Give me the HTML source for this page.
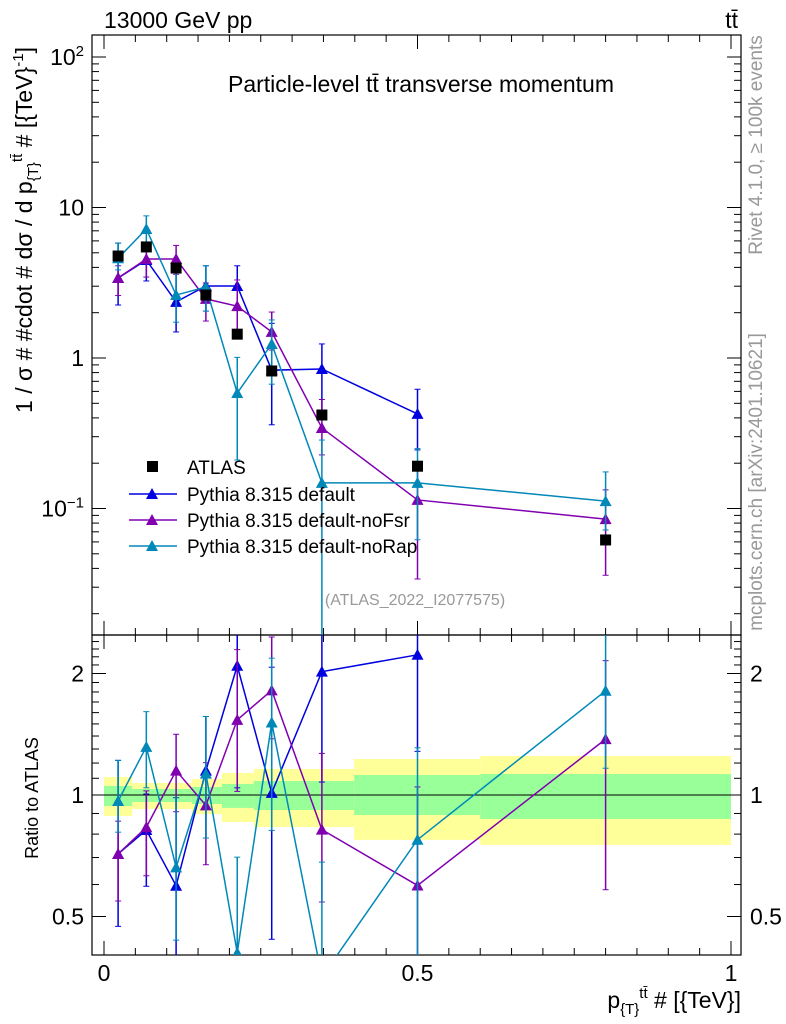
<!DOCTYPE html>
<html><head><meta charset="utf-8"><style>
html,body{margin:0;padding:0;background:#fff;overflow:hidden;width:786px;height:1024px;}
svg{display:block;font-family:"Liberation Sans",sans-serif;}
</style></head><body>
<svg id="chart" width="786" height="1024" viewBox="0 0 786 1024" xmlns="http://www.w3.org/2000/svg">
<g id="bands"></g>
<g id="axes"></g>
<g id="series"></g>
<text x="104" y="28" font-size="23">13000 GeV pp</text>
<text x="738" y="28" font-size="23" text-anchor="end">tt̄</text>
<text x="421" y="92" font-size="23" text-anchor="middle">Particle-level tt̄ transverse momentum</text>
<text x="415" y="605" font-size="16" fill="#999" text-anchor="middle">(ATLAS_2022_I2077575)</text>
<text transform="translate(762,145) rotate(-90)" font-size="19" fill="#999" text-anchor="middle">Rivet 4.1.0, ≥ 100k events</text>
<text transform="translate(762,482) rotate(-90)" font-size="19" fill="#999" text-anchor="middle">mcplots.cern.ch [arXiv:2401.10621]</text>
<text transform="translate(32,230) rotate(-90)" font-size="23" text-anchor="middle">1 / σ # #cdot # dσ / d p<tspan font-size="15" dy="6">{T}</tspan><tspan font-size="15" dy="-16">tt̄</tspan><tspan dy="10"> # [{TeV}</tspan><tspan font-size="15" dy="-9">-1</tspan><tspan dy="9">]</tspan></text>
<text transform="translate(38,798) rotate(-90)" font-size="18" text-anchor="middle">Ratio to ATLAS</text>
<text x="741" y="1008" font-size="23" text-anchor="end">p<tspan font-size="15" dy="6">{T}</tspan><tspan font-size="15" dy="-16">tt̄</tspan><tspan dy="10"> # [{TeV}]</tspan></text>
<g>
<rect x="147" y="461" width="11" height="11" fill="#000"/>
<text x="187" y="474" font-size="19">ATLAS</text>
<line x1="129" x2="177" y1="494" y2="494" stroke="#0000e0" stroke-width="1.5"/>
<path d="M146,499 L158,499 L152,488Z" fill="#0000e0"/>
<text x="187" y="501" font-size="19">Pythia 8.315 default</text>
<line x1="129" x2="177" y1="520" y2="520" stroke="#8000b0" stroke-width="1.5"/>
<path d="M146,525 L158,525 L152,514Z" fill="#8000b0"/>
<text x="187" y="527" font-size="19">Pythia 8.315 default-noFsr</text>
<line x1="129" x2="177" y1="546" y2="546" stroke="#0088b8" stroke-width="1.5"/>
<path d="M146,551 L158,551 L152,540Z" fill="#0088b8"/>
<text x="187" y="553" font-size="19">Pythia 8.315 default-noRap</text>
</g>
</svg>
<script>
const xCenters=[0.0225,0.0675,0.115,0.1625,0.2125,0.2675,0.3475,0.5,0.8];
const atlasVals=[4.76,5.47,3.96,2.62,1.44,0.82,0.418,0.191,0.0618];
const bandEdges=[0,0.045,0.14,0.188,0.239,0.399,0.6,1.0];
const yellowHi=[1.108,1.071,1.095,1.134,1.160,1.228,1.249];
const yellowLo=[0.887,0.923,0.897,0.857,0.833,0.774,0.752];
const greenHi=[1.053,1.035,1.047,1.065,1.083,1.121,1.127];
const greenLo=[0.939,0.961,0.950,0.929,0.918,0.892,0.872];
const defVals=[3.40,4.48,2.36,3.01,3.01,0.83,0.845,0.425];
const defHi=[5.8,5.5,3.9,4.1,4.1,1.7,1.24,0.62];
const defLo=[2.25,3.25,1.49,2.05,1.5,0.36,0.45,0.245];
const fsrVals=[3.4,4.55,4.55,2.47,2.21,1.49,0.343,0.114,0.085];
const fsrHi=[4.1,5.6,5.6,3.15,3.3,2.02,0.53,0.2,0.133];
const fsrLo=[2.6,3.45,3.6,1.76,1.47,1.13,0.227,0.034,0.036];
const rapVals=[4.6,7.2,2.62,2.96,0.585,1.24,0.148,0.148,0.112];
const rapHi=[5.8,8.8,3.9,4.1,1.01,1.79,0.285,0.25,0.175];
const rapLo=[3.85,5.7,1.73,2.05,0.21,0.67,0.01,0.062,0.072];
const xTicksMajor=[0,0.5,1];
const xTickLabels=["0","0.5","1"];
const mainTickVals=[100,10,1,0.1];
const ratioTickVals=[2,1,0.5];

const NS="http://www.w3.org/2000/svg";
const L=92,R=741,T=35,MB=635,B=955;
const X=v=>104+v*627;
const YM=v=>358-150.5*Math.log10(v);
const YR=v=>795-403.6*Math.log10(v);
function mk(parent,tag,attrs){const e=document.createElementNS(NS,tag);for(const k in attrs)e.setAttribute(k,attrs[k]);parent.appendChild(e);return e;}
const bands=document.getElementById('bands'),axes=document.getElementById('axes'),series=document.getElementById('series');

for(let i=0;i<bandEdges.length-1;i++){
  const x1=X(bandEdges[i]),x2=X(bandEdges[i+1]);
  const y=mk(bands,'rect',{x:x1,y:YR(yellowHi[i]),width:x2-x1,height:YR(yellowLo[i])-YR(yellowHi[i]),fill:'#ffff99'});
  
  
  const g=mk(bands,'rect',{x:x1,y:YR(greenHi[i]),width:x2-x1,height:YR(greenLo[i])-YR(greenHi[i]),fill:'#99ff99'});
  
  
}
mk(axes,'line',{x1:L,x2:R,y1:YR(1),y2:YR(1),stroke:'#000','stroke-width':1});
mk(axes,'rect',{x:L,y:T,width:R-L,height:MB-T,fill:'none',stroke:'#000','stroke-width':1.2});
mk(axes,'rect',{x:L,y:MB,width:R-L,height:B-MB,fill:'none',stroke:'#000','stroke-width':1.2});
for(let d=-2;d<=2;d++){for(let m=1;m<10;m++){const v=m*Math.pow(10,d);const y=YM(v);if(y<T||y>MB)continue;const len=m==1?14:7;
 mk(axes,'line',{x1:L,x2:L+len,y1:y,y2:y,stroke:'#000'});mk(axes,'line',{x1:R,x2:R-len,y1:y,y2:y,stroke:'#000'});}}
mainTickVals.forEach(v=>{const y=YM(v);const t=mk(axes,'text',{x:84,y:y+8,'font-size':23,'text-anchor':'end'});
 
 
 if(v==1)t.textContent='1';else if(v==10)t.textContent='10';else{const e=Math.round(Math.log10(v));t.textContent='10';const s=mk(t,'tspan',{dy:-9,'font-size':15});s.textContent=e<0?'−'+(-e):String(e);}});
for(let v=0.4;v<=2.5;v+=0.1){const y=YR(v);if(y<MB||y>B)continue;const major=[0.5,1,2].some(t=>Math.abs(t-v)<1e-6);const len=major?14:7;
 mk(axes,'line',{x1:L,x2:L+len,y1:y,y2:y,stroke:'#000'});mk(axes,'line',{x1:R,x2:R-len,y1:y,y2:y,stroke:'#000'});}
ratioTickVals.forEach(v=>{const y=YR(v);
 const t=mk(axes,'text',{x:84,y:y+8,'font-size':23,'text-anchor':'end'});t.textContent=String(v);
 
 
 const t2=mk(axes,'text',{x:750,y:y+8,'font-size':23});t2.textContent=String(v);
 
 });
for(let i=0;i<=20;i++){const v=i*0.05;const x=X(v);const len=(i%10==0)?14:7;
 mk(axes,'line',{x1:x,x2:x,y1:B,y2:B-len,stroke:'#000'});mk(axes,'line',{x1:x,x2:x,y1:MB,y2:MB-len,stroke:'#000'});
 mk(axes,'line',{x1:x,x2:x,y1:MB,y2:MB+len,stroke:'#000'});mk(axes,'line',{x1:x,x2:x,y1:T,y2:T+len,stroke:'#000'});}
xTicksMajor.forEach((v,i)=>{const t=mk(axes,'text',{x:X(v),y:981,'font-size':23,'text-anchor':'middle'});t.textContent=xTickLabels[i];
 
 });

const defs=mk(series,'defs',{});
const c1=mk(defs,'clipPath',{id:'cm'});mk(c1,'rect',{x:L,y:T,width:R-L,height:MB-T});
const c2=mk(defs,'clipPath',{id:'cr'});mk(c2,'rect',{x:L,y:MB,width:R-L,height:B-MB});
const gm=mk(series,'g',{'clip-path':'url(#cm)'});
const gr=mk(series,'g',{'clip-path':'url(#cr)'});

function tri(g,x,y,c){return mk(g,'path',{d:`M${x-6},${y+5} L${x+6},${y+5} L${x},${y-6}Z`,fill:c});}
function drawSeries(name,vals,hi,lo,color){
  const gg=mk(gm,'g',{});
  const gq=mk(gr,'g',{});
  const ptsM=[],ptsR=[];
  vals.forEach((v,i)=>{const x=X(xCenters[i]);ptsM.push(x+','+YM(v));ptsR.push(x+','+YR(v/atlasVals[i]));});
  mk(gg,'polyline',{points:ptsM.join(' '),fill:'none',stroke:color,'stroke-width':1.5});
  mk(gq,'polyline',{points:ptsR.join(' '),fill:'none',stroke:color,'stroke-width':1.5});
  vals.forEach((v,i)=>{const x=X(xCenters[i]);
    mk(gg,'line',{x1:x,x2:x,y1:YM(hi[i]),y2:YM(lo[i]),stroke:color,'stroke-width':1.5});
    [hi[i],lo[i]].forEach(e=>mk(gg,'line',{x1:x-3,x2:x+3,y1:YM(e),y2:YM(e),stroke:color}));
    const m=tri(gg,x,YM(v),color);
    
    
    const a=atlasVals[i];
    mk(gq,'line',{x1:x,x2:x,y1:YR(hi[i]/a),y2:YR(lo[i]/a),stroke:color,'stroke-width':1.5});
    [hi[i]/a,lo[i]/a].forEach(e=>mk(gq,'line',{x1:x-3,x2:x+3,y1:YR(e),y2:YR(e),stroke:color}));
    const r=tri(gq,x,YR(v/a),color);
    
    
  });
}
drawSeries('pythia-default',defVals,defHi,defLo,'#0000e0');
drawSeries('pythia-nofsr',fsrVals,fsrHi,fsrLo,'#8000b0');
drawSeries('pythia-norap',rapVals,rapHi,rapLo,'#0088b8');
atlasVals.forEach((v,i)=>{const x=X(xCenters[i]);
  const r=mk(gm,'rect',{x:x-5.5,y:YM(v)-5.5,width:11,height:11,fill:'#000'});
  
  });
</script>
</body></html>
